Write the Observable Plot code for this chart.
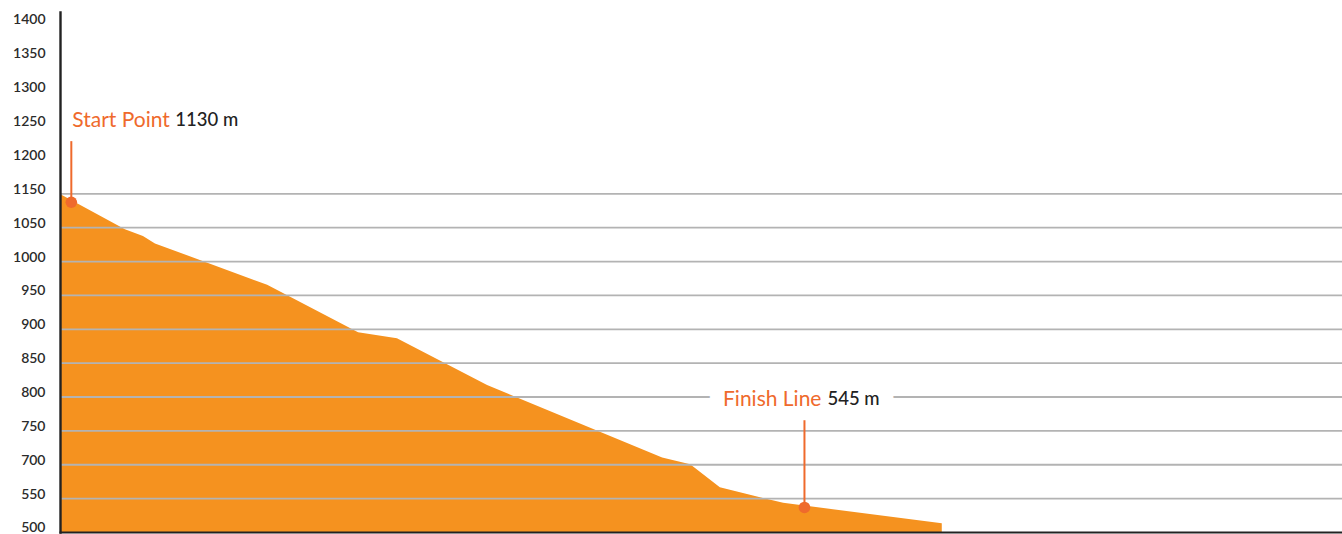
<!DOCTYPE html>
<html><head><meta charset="utf-8">
<script src="https://cdn.jsdelivr.net/npm/d3@7"></script>
<script src="https://cdn.jsdelivr.net/npm/@observablehq/plot@0.6"></script>
<style>
html,body{margin:0;padding:0;background:#fff;}
#chart svg{display:block;}
</style>
</head><body><div id="chart"></div>
<script>
// Elevation tick labels as printed on the chart (evenly spaced, non-uniform values)
const tickValues = [500, 550, 700, 750, 800, 850, 900, 950, 1000, 1050, 1150, 1200, 1250, 1300, 1350, 1400];
const gridValues = [550, 700, 750, 800, 850, 900, 950, 1000, 1050, 1150];

// Course profile (distance in km, elevation in m)
const distanceKm = [0, 1.62, 2.07, 2.37, 5.17, 7.44, 8.41, 10.66, 15.03, 15.73, 16.47, 18.05, 22.01];
const elevationM = [1148, 1047, 1037, 1026, 965, 895, 886, 817, 710, 700, 598, 543, 513];

// Annotations
const markerNames = ["Start Point", "Finish Line"];
const markerValues = ["1130 m", "545 m"];
const markerKm = [0.27, 18.57];
const markerElev = [1125, 537];
const markerLabelElev = [1259, 797];
const markerStemTop = [1227, 765];

const profile = distanceKm.map((d, i) => ({km: d, elev: elevationM[i]}));
const markers = markerNames.map((n, i) => ({
  name: n, value: markerValues[i], km: markerKm[i], elev: markerElev[i],
  labelElev: markerLabelElev[i], stemTop: markerStemTop[i]
}));
const startM = markers.slice(0, 1), finishM = markers.slice(1);

const W = 1342, H = 534;
const bottomY = 532, step = 33.87;
const yRange = tickValues.map((_, i) => bottomY - i * step);

const orange = "#f5921f";
const accent = "#ef6a2c";
const font = "Lato, 'Open Sans', sans-serif";
const nameSize = 21, valueSize = 18.5;

const chart = Plot.plot({
  width: W,
  height: H,
  marginLeft: 60,
  marginRight: 0,
  marginTop: 12,
  marginBottom: 2,
  style: {fontFamily: font, background: "#fff"},
  x: {domain: [0, 32], axis: null},
  y: {type: "linear", domain: tickValues, range: yRange, axis: null},
  marks: [
    Plot.areaY(profile, {x: "km", y1: 500, y2: "elev", fill: orange, curve: "linear"}),
    Plot.ruleY(gridValues, {stroke: "#b3b3b3", strokeWidth: 1.8}),
    Plot.axisY({
      ticks: tickValues, tickSize: 0, tickPadding: 15, dy: -4.5,
      fontSize: 14, fontWeight: 600, fill: "#2b2b2b", label: null,
      tickFormat: d => String(d)
    }),
    Plot.frame({anchor: "left", stroke: "#222", strokeWidth: 2.4}),
    Plot.frame({anchor: "bottom", stroke: "#222", strokeWidth: 2}),
    // start label (left aligned)
    Plot.text(startM, {x: "km", y: "labelElev", text: "name", textAnchor: "start", dx: 1, fill: accent, fontSize: nameSize}),
    Plot.text(startM, {x: "km", y: "labelElev", text: "value", textAnchor: "start", dx: 104, fill: "#222", fontSize: valueSize, fontWeight: 500}),
    // finish label: white knock-out over the gridline, then coloured text
    Plot.text(finishM, {x: "km", y: "labelElev", text: "name", textAnchor: "end", dx: 17, fill: "white", fontSize: nameSize, stroke: "white", strokeWidth: 30}),
    Plot.text(finishM, {x: "km", y: "labelElev", text: "value", textAnchor: "start", dx: 23, fill: "white", fontSize: valueSize, fontWeight: 500, stroke: "white", strokeWidth: 30}),
    Plot.text(finishM, {x: "km", y: "labelElev", text: "name", textAnchor: "end", dx: 17, fill: accent, fontSize: nameSize}),
    Plot.text(finishM, {x: "km", y: "labelElev", text: "value", textAnchor: "start", dx: 23, fill: "#222", fontSize: valueSize, fontWeight: 500}),
    Plot.ruleX(markers, {x: "km", y1: "elev", y2: "stemTop", stroke: accent, strokeWidth: 2}),
    Plot.dot(markers, {x: "km", y: "elev", r: 5.8, fill: accent})
  ]
});
document.getElementById("chart").appendChild(chart);
</script>
</body></html>
